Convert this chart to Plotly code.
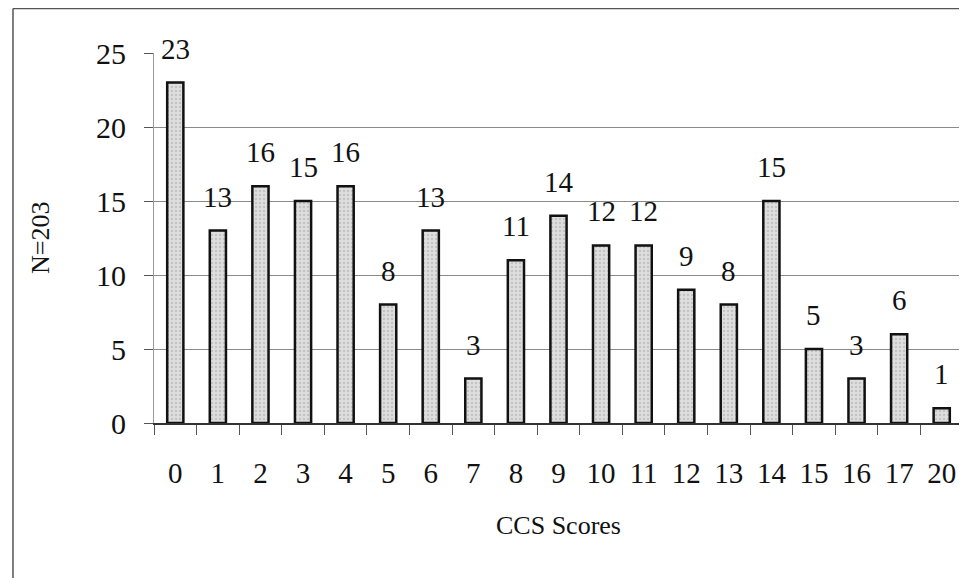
import plotly.graph_objects as go

categories = ["0", "1", "2", "3", "4", "5", "6", "7", "8", "9", "10",
              "11", "12", "13", "14", "15", "16", "17", "20"]
counts = [23, 13, 16, 15, 16, 8, 13, 3, 11, 14, 12, 12, 9, 8, 15, 5, 3, 6, 1]
y_ticks = [0, 5, 10, 15, 20, 25]

FONT = "Liberation Serif"

fig = go.Figure()
fig.add_trace(go.Bar(
    x=categories, y=counts, width=0.38,
    marker=dict(color="#d2d2d2",
                line=dict(color="#111111", width=2.5),
                pattern=dict(shape=".", fgcolor="#a8a8a8", bgcolor="#dedede",
                             size=4, solidity=0.3)),
    hoverinfo="x+y",
))

# value labels above bars (positioned by category index)
for i, v in enumerate(counts):
    fig.add_annotation(x=i, y=v, text=str(v), showarrow=False,
                       yanchor="bottom", yshift=16,
                       font=dict(family=FONT, size=29, color="#111111"))

fig.add_annotation(x=0.5, y=-0.2757, xref="paper", yref="paper",
                   xanchor="center", yanchor="middle",
                   text="CCS Scores", showarrow=False,
                   font=dict(family=FONT, size=26, color="#111111"))
fig.add_annotation(x=-0.141, y=0.5, xref="paper", yref="paper",
                   xanchor="center", yanchor="middle",
                   text="N=203", showarrow=False, textangle=-90,
                   font=dict(family=FONT, size=26, color="#111111"))

# outer frame (left and top edges visible)
fig.add_shape(type="line", xref="paper", yref="paper",
              x0=-0.1743, x1=-0.1743, y0=-0.45, y1=1.1205,
              line=dict(color="#555555", width=1.5))
fig.add_shape(type="line", xref="paper", yref="paper",
              x0=-0.1743, x1=1.02, y0=1.1205, y1=1.1205,
              line=dict(color="#555555", width=1.5))
# right edge of plot area
fig.add_shape(type="line", xref="paper", yref="paper",
              x0=1, x1=1, y0=-0.02, y1=1,
              line=dict(color="#999999", width=1, dash="dot"))

fig.update_layout(
    width=959, height=570,
    margin=dict(l=146, r=4, t=45, b=155),
    paper_bgcolor="white", plot_bgcolor="white",
    showlegend=False, bargap=0.62,
    font=dict(family=FONT, size=26, color="#111111"),
    xaxis=dict(type="category", range=[-0.5, len(categories) - 0.5],
               automargin=False,
               showgrid=False, showline=True,
               linecolor="#333333", linewidth=1.5,
               ticks="outside", tickson="boundaries", ticklen=10,
               tickcolor="#555555", tickwidth=1,
               ticklabelstandoff=23,
               tickfont=dict(family=FONT, size=29, color="#111111")),
    yaxis=dict(range=[0, 25], tickvals=y_ticks, showgrid=True,
               automargin=False,
               gridcolor="#8a8a8a", gridwidth=1,
               showline=True, linecolor="#9a9a9a", linewidth=1,
               ticks="outside", ticklen=9, tickcolor="#555555",
               ticklabelstandoff=12, zeroline=False,
               tickfont=dict(family=FONT, size=30, color="#111111")),
)

fig.write_html("out.html")
